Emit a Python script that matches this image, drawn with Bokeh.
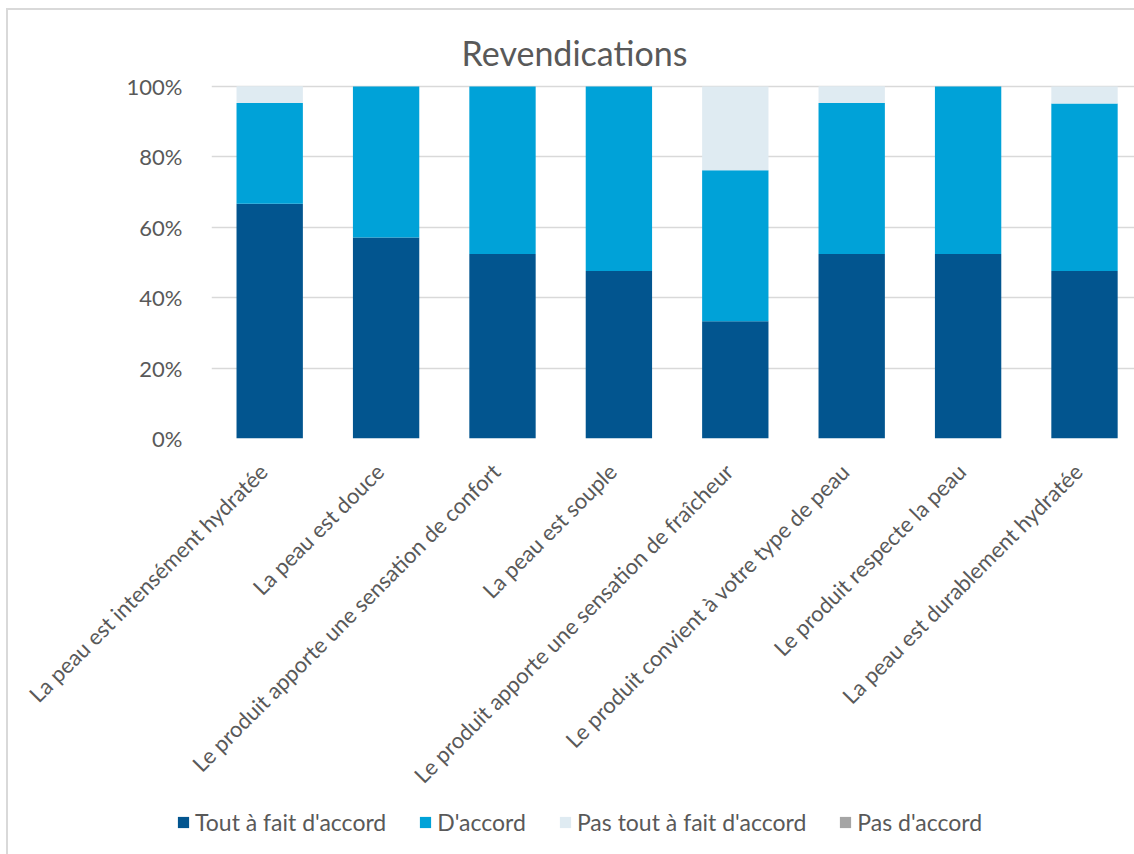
from math import pi
from bokeh.plotting import figure
from bokeh.layouts import column
from bokeh.models import Range1d, FixedTicker, Legend, LegendItem, Label, ColumnDataSource
from bokeh.embed import file_html
from bokeh.resources import INLINE

categories = [
    "La peau est intensément hydratée",
    "La peau est douce",
    "Le produit apporte une sensation de confort",
    "La peau est souple",
    "Le produit apporte une sensation de fraîcheur",
    "Le produit convient à votre type de peau",
    "Le produit respecte la peau",
    "La peau est durablement hydratée",
]
series_names = ["Tout à fait d'accord", "D'accord", "Pas tout à fait d'accord", "Pas d'accord"]
tout_a_fait = [66.7, 57.1, 52.4, 47.6, 33.3, 52.4, 52.4, 47.6]
d_accord = [28.6, 42.9, 47.6, 52.4, 42.9, 42.9, 47.6, 47.6]
pas_tout_a_fait = [4.8, 0.0, 0.0, 0.0, 23.8, 4.8, 0.0, 4.8]
pas_d_accord = [0.0, 0.0, 0.0, 0.0, 0.0, 0.0, 0.0, 0.0]
y_ticks = [0, 20, 40, 60, 80, 100]
y_tick_labels = ["0%", "20%", "40%", "60%", "80%", "100%"]
colors = ["#02558F", "#00A2D8", "#DFEBF2", "#A5A5A5"]
title_text = "Revendications"

FONT = "Lato"
TXT = "#595959"
GRID = "#d9d9d9"

PX = 116.4          # pixels per category
PY = 3.52           # pixels per percent
xs = [i + 0.5 for i in range(len(categories))]
label_ticks = [x - 0.055 for x in xs]
keys = ["s0", "s1", "s2", "s3"]
source = ColumnDataSource(dict(x=xs, s0=tout_a_fait, s1=d_accord, s2=pas_tout_a_fait, s3=pas_d_accord))

p = figure(width=1126, height=790, output_backend="svg", toolbar_location=None,
           x_range=Range1d(0, 923 / PX), y_range=Range1d(0, 100 + 61 / PY),
           min_border_left=203, min_border_top=15, min_border_bottom=362, min_border_right=0)
p.outline_line_color = None

renderers = p.vbar_stack(keys, x="x", width=0.57, color=colors, line_color=None, source=source)

p.xgrid.grid_line_color = None
p.ygrid.grid_line_color = GRID
p.ygrid.grid_line_width = 1.5
p.ygrid.ticker = FixedTicker(ticks=y_ticks)

p.yaxis.ticker = FixedTicker(ticks=y_ticks)
p.yaxis.major_label_overrides = {t: l for t, l in zip(y_ticks, y_tick_labels)}
p.yaxis.axis_line_color = None
p.yaxis.major_tick_line_color = None
p.yaxis.minor_tick_line_color = None
p.yaxis.major_label_standoff = 23
p.yaxis.major_label_text_font = FONT
p.yaxis.major_label_text_font_size = "22px"
p.yaxis.major_label_text_color = TXT

p.xaxis.ticker = FixedTicker(ticks=label_ticks)
p.xaxis.major_label_overrides = {x: c for x, c in zip(label_ticks, categories)}
p.xaxis.major_label_orientation = pi / 4
p.xaxis.axis_line_color = None
p.xaxis.major_tick_line_color = None
p.xaxis.minor_tick_line_color = None
p.xaxis.major_label_standoff = 23
p.xaxis.major_label_text_font = FONT
p.xaxis.major_label_text_font_size = "22px"
p.xaxis.major_label_text_color = TXT

title = Label(x=(574 - 211) / PX, y=109.8, text=title_text, text_align="center",
              text_baseline="middle", text_font=FONT, text_font_size="34px", text_color=TXT)
p.add_layout(title)

# legend strip
pl = figure(width=1126, height=54, output_backend="svg", toolbar_location=None,
            x_range=Range1d(0, 1), y_range=Range1d(0, 1),
            x_axis_type=None, y_axis_type=None,
            min_border_left=0, min_border_right=0, min_border_top=0, min_border_bottom=0)
pl.frame_align = False
pl.outline_line_color = None
pl.xgrid.grid_line_color = None
pl.ygrid.grid_line_color = None
leg_renderers = [pl.vbar(x=[5], top=[0], width=0.1, color=c, line_color=None) for c in colors]
legend = Legend(items=[LegendItem(label=n, renderers=[r]) for n, r in zip(series_names, leg_renderers)],
                orientation="horizontal", location=(168, 18),
                glyph_width=14, glyph_height=14, label_standoff=5, spacing=32,
                padding=0, margin=0, border_line_color=None, background_fill_alpha=0,
                label_text_font=FONT, label_text_font_size="23px", label_text_color=TXT)
pl.add_layout(legend, "center")

layout = column(p, pl, spacing=0)
layout.styles = {"margin-left": "6px", "margin-top": "8px",
                 "border-left": "2px solid " + GRID, "border-top": "2px solid " + GRID}
open("out.html", "w").write(file_html(layout, INLINE))
